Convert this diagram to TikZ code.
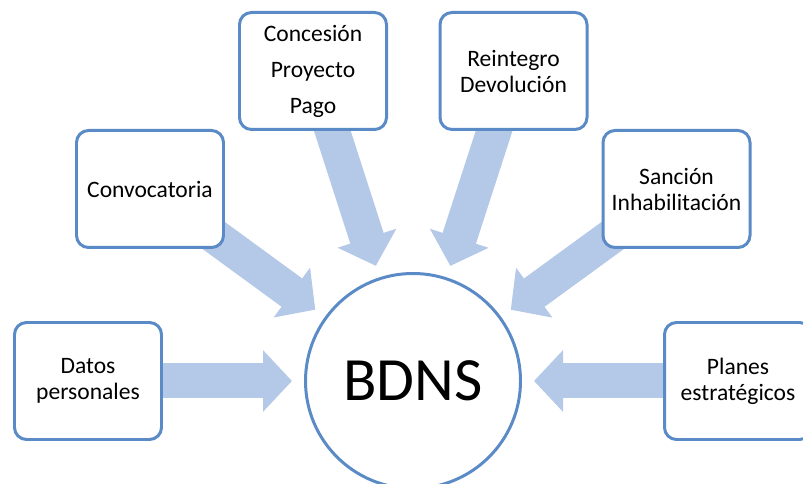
\documentclass[tikz,border=0pt]{standalone}
\usepackage{fontspec}
\setmainfont{Carlito}
\usepackage{xcolor}
\usepackage{tikz}
\usetikzlibrary{positioning,arrows.meta,backgrounds}

\definecolor{boxblue}{HTML}{5B8BC6}
\definecolor{arrowblue}{HTML}{B4C8E7}

\begin{document}
\begin{tikzpicture}[
  block/.style={rectangle, rounded corners=0.24cm, draw=boxblue, fill=white, line width=1.7pt,
    minimum width=2.94cm, minimum height=2.34cm, align=center, font=\fontsize{13.4}{14.8}\selectfont},
  hub/.style={circle, draw=boxblue, fill=white, line width=1.7pt, minimum size=4.3cm,
    font=\fontsize{35}{40}\selectfont},
  feed/.style={draw=arrowblue, line width=0.7cm, -{Triangle[width=1.2cm,length=0.58cm]}, shorten >=0.24cm},
  node distance=6.5cm,
  on grid
]
\useasboundingbox (0,0) rectangle (16.06,9.68);

\node[hub] (bdns) at (8.26,2.06) {BDNS};

\node[block, left of=bdns] (datos) {Datos\\personales};
\node[block, right of=bdns] (planes) {Planes\\estratégicos};
\node[block, above left=3.84cm and 5.26cm of bdns] (convoc) {Convocatoria};
\node[block, above right=3.84cm and 5.27cm of bdns] (sancion) {Sanción\\Inhabilitación};
\node[block, above left=6.2cm and 2cm of bdns, font=\fontsize{13.4}{20.5}\selectfont] (concesion) {Concesión\\Proyecto\\Pago};
\node[block, above right=6.2cm and 2.01cm of bdns] (reintegro) {Reintegro\\Devolución};

% arrows go under the boxes
\begin{scope}[on background layer]
\foreach \src in {datos,planes,convoc,sancion,concesion,reintegro}
  \draw[feed] (\src.center) -- (bdns);
\end{scope}
\end{tikzpicture}
\end{document}
